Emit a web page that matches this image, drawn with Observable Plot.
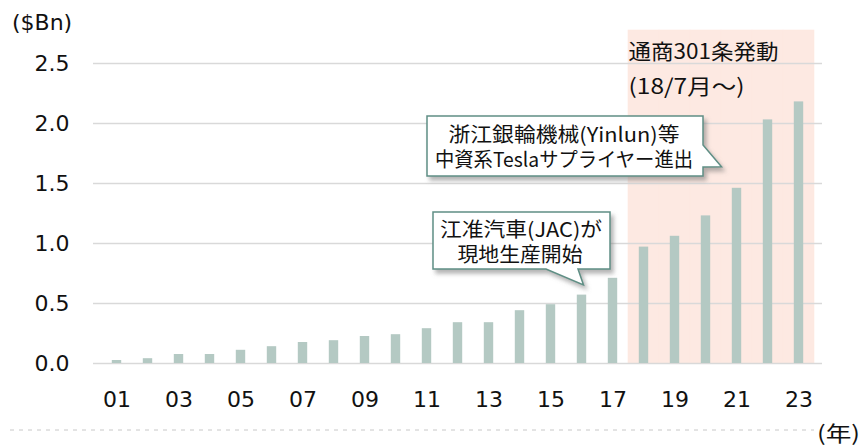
<!DOCTYPE html>
<html>
<head>
<meta charset="utf-8">
<script src="https://cdn.jsdelivr.net/npm/d3@7"></script>
<script src="https://cdn.jsdelivr.net/npm/@observablehq/plot@0.6"></script>
<style>
  html, body { margin: 0; padding: 0; background: #fff; }
  #chart svg { display: block; }
  #chart svg text.dv { font-family: "DejaVu Sans" !important; }
</style>
</head>
<body>
<div id="chart"></div>
<script>
// ---- data ----
const years = ["01","02","03","04","05","06","07","08","09","10","11","12","13","14","15","16","17","18","19","20","21","22","23"];
const values = [0.025,0.04,0.075,0.075,0.11,0.14,0.175,0.19,0.225,0.24,0.29,0.34,0.34,0.44,0.49,0.57,0.71,0.97,1.06,1.23,1.46,2.03,2.18];
const yTicks = [0, 0.5, 1.0, 1.5, 2.0, 2.5];
const xTickLabels = ["01","03","05","07","09","11","13","15","17","19","21","23"];
const shadeYears = ["18","19","20","21","22","23"];
const shadeTop = 2.775;
const yUnit = "($Bn)";
const xUnit = "(年)";
const periodLabel = ["通商301条発動", "(18/7月～)"];
const note1 = ["浙江銀輪機械(Yinlun)等", "中資系Teslaサプライヤー進出"];
const note2 = ["江准汽車(JAC)が", "現地生産開始"];

const data = years.map((y, i) => ({year: y, value: values[i]}));
const JFONT = "'Noto Sans CJK JP', 'DejaVu Sans', sans-serif";

const plot = Plot.plot({
  width: 861,
  height: 446,
  marginLeft: 93,
  marginRight: 39,
  marginTop: 63,
  marginBottom: 83,
  style: {background: "#fff", fontFamily: "DejaVu Sans", fontSize: "22px"},
  x: {type: "band", domain: years, paddingInner: 0, paddingOuter: 0},
  y: {domain: [0, 2.5]},
  marks: [
    Plot.barY(shadeYears, {x: d => d, y1: 0, y2: shadeTop, fill: "#fde9e2", stroke: "#fde9e2", strokeWidth: 0.6}),
    Plot.ruleY(yTicks, {stroke: "#d9d9d9", strokeWidth: 1.6}),
    Plot.barY(data, {x: "year", y: "value", fill: "#b4c9c3", insetLeft: 10.8, insetRight: 10.8}),
    Plot.axisY({ticks: yTicks, tickFormat: d3.format(".1f"), tickSize: 0, tickPadding: 24, label: null, fontSize: 22}),
    Plot.axisX({ticks: xTickLabels, tickSize: 0, tickPadding: 28, label: null, fontSize: 22})
  ]
});

document.getElementById("chart").appendChild(plot);

const svg = d3.select(plot);
svg.selectAll("text").classed("dv", true).attr("fill", "#111");

const xs = plot.scale("x");
const ys = plot.scale("y");
const bw = xs.bandwidth;
const cx = k => xs.apply(k) + bw / 2;

const addText = (x, y, t, anchor, fam, size, len) => {
  const el = svg.append("text").attr("x", x).attr("y", y).attr("text-anchor", anchor)
    .style("font-family", fam).style("font-size", size + "px").attr("fill", "#111").text(t);
  if (len) el.attr("textLength", len).attr("lengthAdjust", "spacingAndGlyphs");
  return el;
};

// drop shadow filter
const defs = svg.append("defs");
const f = defs.append("filter").attr("id", "shadow").attr("x", "-20%").attr("y", "-20%").attr("width", "140%").attr("height", "150%");
f.append("feDropShadow").attr("dx", 3).attr("dy", 4).attr("stdDeviation", 2.2).attr("flood-color", "#777").attr("flood-opacity", 0.55);

// unit labels
addText(12, 30, yUnit, "start", "DejaVu Sans", 22).classed("dv", true);
addText(817, 441, xUnit, "start", JFONT, 21, 43);

// dashed bottom line
svg.append("line").attr("x1", 10).attr("x2", 814).attr("y1", 430).attr("y2", 430)
  .attr("stroke", "#c8c8c8").attr("stroke-width", 1).attr("stroke-dasharray", "4,5");

// period label
const shadeLeft = xs.apply("18");
addText(shadeLeft + 0.5, 58.5, periodLabel[0], "start", JFONT, 21, 150);
addText(shadeLeft + 0.5, 94, periodLabel[1], "start", JFONT, 21, 116);

// callout 1
{
  const L = 427, R = 703, T = 116, B = 176;
  const tipX = cx("21") - 15, tipY = ys.apply(1.635);
  const p = `M${L},${T}H${R}V145L${tipX},${tipY}L${R},167V${B}H${L}Z`;
  svg.append("path").attr("d", p).attr("fill", "#fff").attr("stroke", "#5f8f85").attr("stroke-width", 1.5).attr("filter", "url(#shadow)");
  addText(564, 141.5, note1[0], "middle", JFONT, 20, 231);
  addText(564, 166.5, note1[1], "middle", JFONT, 20, 258);
}
// callout 2
{
  const L = 433, R = 610, T = 212, B = 269;
  const tipX = cx("16") + 2, tipY = ys.apply(0.65);
  const p = `M${L},${T}H${R}V${B}H578L${tipX},${tipY}L546,${B}H${L}Z`;
  svg.append("path").attr("d", p).attr("fill", "#fff").attr("stroke", "#5f8f85").attr("stroke-width", 1.5).attr("filter", "url(#shadow)");
  addText(521, 236.5, note2[0], "middle", JFONT, 20, 162);
  addText(520, 261.5, note2[1], "middle", JFONT, 20, 125);
}
</script>
</body>
</html>
